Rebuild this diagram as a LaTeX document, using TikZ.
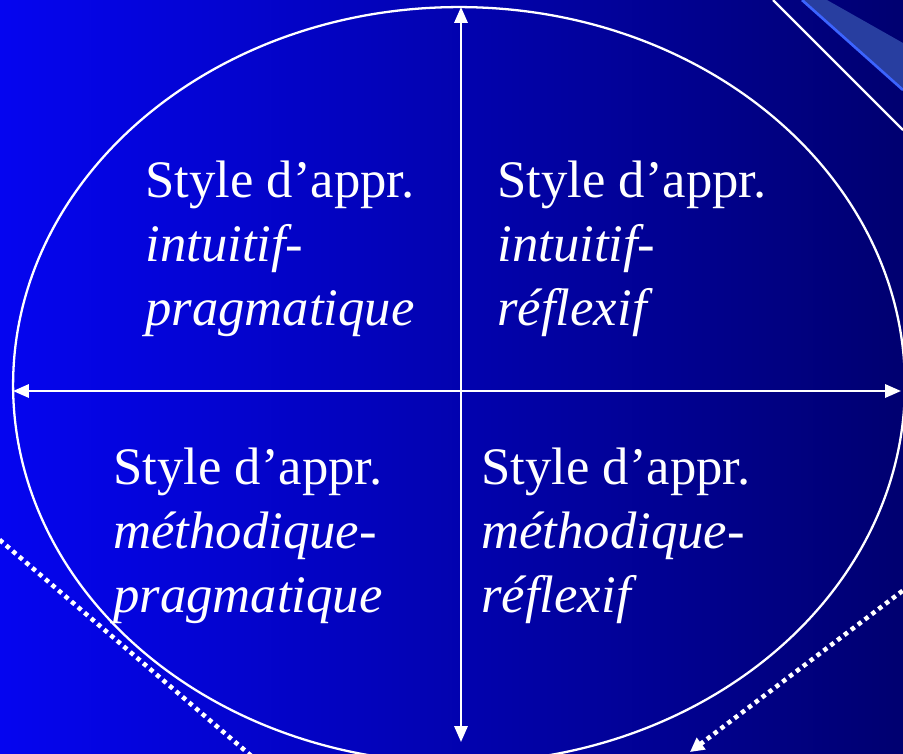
\documentclass[tikz,border=0pt]{standalone}
\usepackage{fontspec}
\setmainfont{Liberation Serif}
\definecolor{bgleft}{RGB}{5,5,240}
\definecolor{bgright}{RGB}{0,0,112}
\definecolor{bandblue}{RGB}{40,62,160}
\definecolor{edgeblue}{RGB}{60,100,255}
\usetikzlibrary{arrows.meta,positioning,shapes.geometric}

\begin{document}
\begin{tikzpicture}[x=0.02cm, y=-0.02cm,
  quad/.style={anchor=base west, inner sep=0pt, align=left, text=white, font=\fontsize{30}{36.3}\selectfont},
  axis/.style={white, line width=1.3pt, {Triangle[length=9pt,width=7.5pt]}-{Triangle[length=9pt,width=7.5pt]}},
  dots/.style={white, line width=2.6pt, dash pattern=on 2.5pt off 2.4pt}]
  \useasboundingbox (0,0) rectangle (903,754);
  \clip (0,0) rectangle (903,754);
  \shade[left color=bgleft, right color=bgright] (0,0) rectangle (903,754);
  % corner decoration
  \fill[bandblue] (802,0) -- (827,0) -- (903,43) -- (903,90) -- cycle;
  \draw[edgeblue, line width=1.5pt] (802,0) -- (903,90);
  \draw[white, line width=1.3pt] (773,0) -- (903,130);
  % dotted arrows
  \coordinate (dl1) at (-20,523);
  \coordinate (dl2) at (270,772);
  \coordinate (dr1) at (930,570);
  \coordinate (dr2) at (690,752);
  \draw[dots] (dl1) -- (dl2);
  \draw[dots, -{Triangle[length=8pt,width=8pt]}] (dr1) -- (dr2);
  % oval and axes
  \node[ellipse, draw=white, line width=1.3pt, minimum width=17.84cm, minimum height=15.12cm, inner sep=0pt] (oval) at (459,385) {};
  \coordinate (top) at (461,7);
  \coordinate (bot) at (461,742);
  \coordinate (lft) at (13,391);
  \coordinate (rgt) at (901,391);
  \draw[axis] (lft) -- (rgt);
  \draw[axis] (bot) -- (top);
  % quadrants
  \node[quad] (q1) at (145,325) {Style d’appr.\\\textit{intuitif-}\\\textit{pragmatique}};
  \node[quad] (q2) at (497,325) {Style d’appr.\\\textit{intuitif-}\\\textit{réflexif}};
  \node[quad] (q3) at (113,612) {Style d’appr.\\\textit{méthodique-}\\\textit{pragmatique}};
  \node[quad] (q4) at (481,612) {Style d’appr.\\\textit{méthodique-}\\\textit{réflexif}};
\end{tikzpicture}
\end{document}
